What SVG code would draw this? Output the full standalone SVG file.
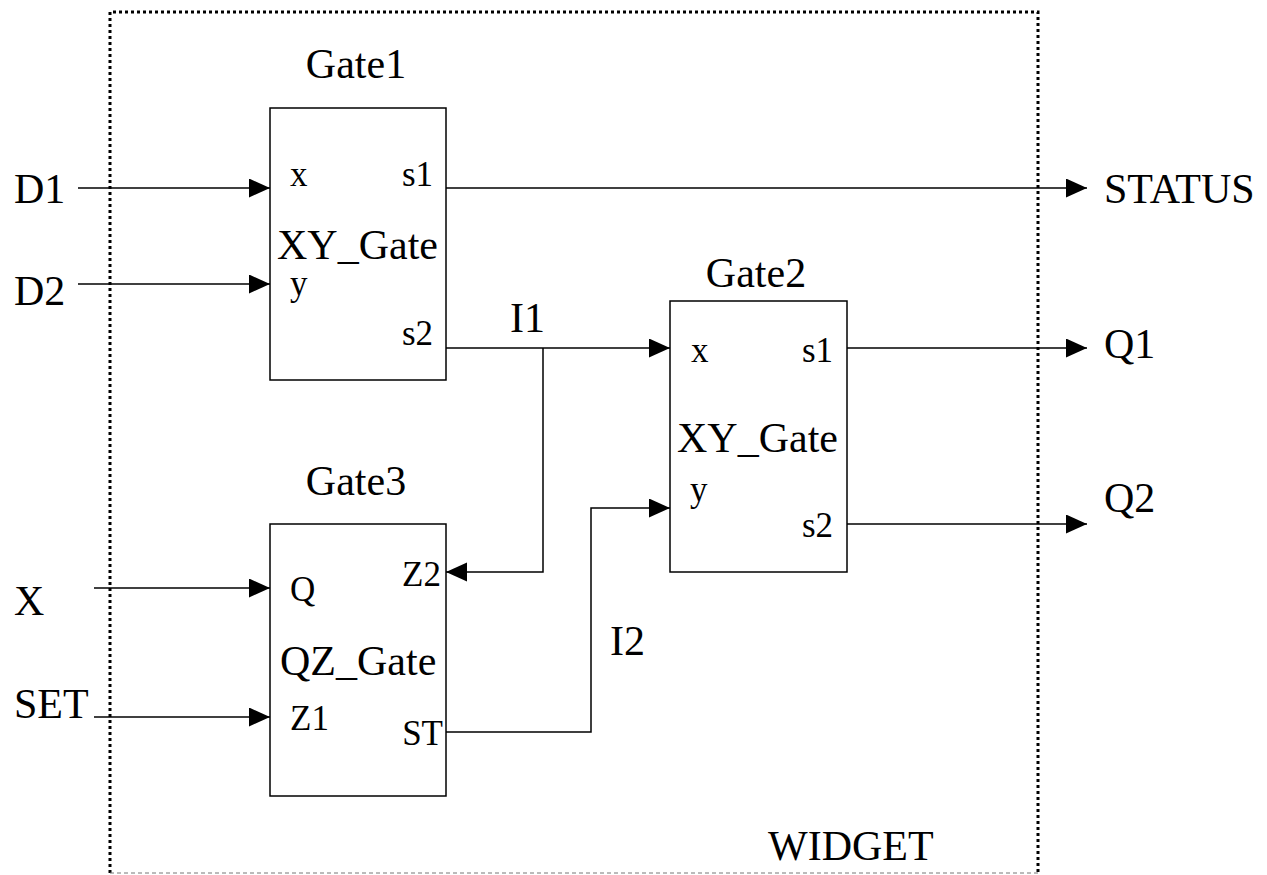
<svg xmlns="http://www.w3.org/2000/svg" width="1267" height="875" viewBox="0 0 1267 875">
<style>
text{font-family:"Liberation Serif","Times New Roman",serif;fill:#000}
.big{font-size:42px}
.sm{font-size:35px}
.box{fill:#fff;stroke:#000;stroke-width:1.5}
.wire{fill:none;stroke:#000;stroke-width:1.5}
.dot{fill:none;stroke:#000;stroke-width:3;stroke-dasharray:3 3}
.dash{fill:none;stroke:#777;stroke-width:1;stroke-dasharray:4 3}
</style>
<defs>
<marker id="arr" markerUnits="userSpaceOnUse" markerWidth="22" markerHeight="20" refX="21" refY="9.5" orient="auto">
<path d="M0,0 L21,9.5 L0,19 z" fill="#000"/>
</marker>
</defs>
<rect width="1267" height="875" fill="#fff"/>
<g id="widget">
<path class="dot" d="M110,873 V12 H1038 V873"/>
<path class="dash" d="M110,873 H1038"/>
<text class="big" x="768" y="860">WIDGET</text>
</g>
<g id="connectors">
<path class="wire" d="M78,188 H270" marker-end="url(#arr)"/>
<path class="wire" d="M78,284 H270" marker-end="url(#arr)"/>
<path class="wire" d="M94,588 H270" marker-end="url(#arr)"/>
<path class="wire" d="M94,717 H270" marker-end="url(#arr)"/>
<path class="wire" d="M446,188 H1087" marker-end="url(#arr)"/>
<path class="wire" d="M446,348 H670" marker-end="url(#arr)"/>
<path class="wire" d="M543,348 V572 H446" marker-end="url(#arr)"/>
<path class="wire" d="M446,732 H591 V508 H670" marker-end="url(#arr)"/>
<path class="wire" d="M847,348 H1087" marker-end="url(#arr)"/>
<path class="wire" d="M847,524 H1087" marker-end="url(#arr)"/>
<text class="big" x="510" y="332">I1</text>
<text class="big" x="610" y="655">I2</text>
</g>
<g id="ports">
<text class="big" x="14" y="203">D1</text>
<text class="big" x="14" y="305">D2</text>
<text class="big" x="14" y="615">X</text>
<text class="big" x="14" y="718">SET</text>
<text class="big" x="1104" y="203">STATUS</text>
<text class="big" x="1104" y="358">Q1</text>
<text class="big" x="1104" y="512">Q2</text>
</g>
<g id="gate1">
<rect class="box" x="270" y="108" width="176" height="272"/>
<text class="big" x="356" y="78" text-anchor="middle">Gate1</text>
<text class="sm" x="290" y="186">x</text>
<text class="sm" x="433" y="186" text-anchor="end">s1</text>
<text class="big" x="277" y="259">XY_Gate</text>
<text class="sm" x="290" y="295">y</text>
<text class="sm" x="433" y="345" text-anchor="end">s2</text>
</g>
<g id="gate2">
<rect class="box" x="670" y="301" width="177" height="271"/>
<text class="big" x="756" y="287" text-anchor="middle">Gate2</text>
<text class="sm" x="691" y="362">x</text>
<text class="sm" x="833" y="362" text-anchor="end">s1</text>
<text class="big" x="677" y="452">XY_Gate</text>
<text class="sm" x="690" y="501">y</text>
<text class="sm" x="833" y="537" text-anchor="end">s2</text>
</g>
<g id="gate3">
<rect class="box" x="270" y="524" width="176" height="272"/>
<text class="big" x="356" y="495" text-anchor="middle">Gate3</text>
<text class="sm" x="290" y="601">Q</text>
<text class="sm" x="441" y="586" text-anchor="end">Z2</text>
<text class="big" x="280" y="675">QZ_Gate</text>
<text class="sm" x="290" y="730">Z1</text>
<text class="sm" x="443" y="745" text-anchor="end">ST</text>
</g>
</svg>
